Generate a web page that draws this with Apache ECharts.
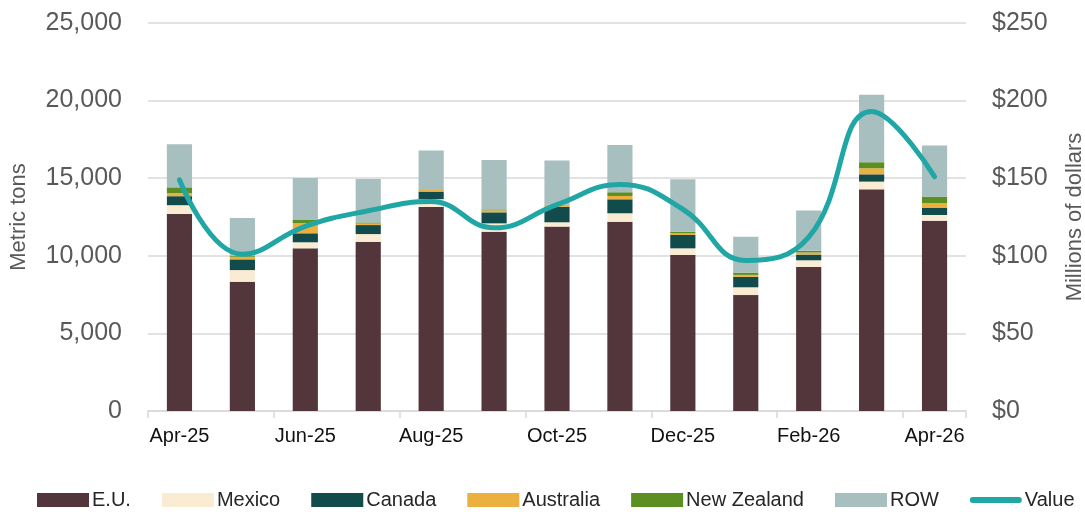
<!DOCTYPE html>
<html>
<head>
<meta charset="utf-8">
<script src="https://cdn.jsdelivr.net/npm/echarts@6/dist/echarts.min.js"></script>
<style>
html,body{margin:0;padding:0;background:#fff;overflow:hidden;width:1085px;height:512px;}
#chart{width:1085px;height:512px;}
</style>
</head>
<body>
<div id="chart"></div>
<script>
var categories = ['Apr-25','May-25','Jun-25','Jul-25','Aug-25','Sep-25','Oct-25','Nov-25','Dec-25','Jan-26','Feb-26','Mar-26','Apr-26'];
var euValues = [12700, 8330, 10480, 10900, 13150, 11550, 11880, 12200, 10050, 7470, 9280, 14280, 12260];
var mexicoValues = [560, 750, 390, 500, 500, 540, 280, 540, 430, 500, 430, 500, 370];
var canadaValues = [580, 690, 580, 580, 490, 710, 990, 900, 860, 670, 370, 470, 450];
var australiaValues = [200, 170, 650, 100, 110, 130, 110, 215, 110, 130, 130, 390, 320];
var newZealandValues = [370, 65, 210, 70, 30, 60, 30, 240, 100, 150, 110, 390, 410];
var rowValues = [2780, 2430, 2700, 2800, 2500, 3180, 2850, 3050, 3380, 2300, 2600, 4340, 3290];
var valueMillions = [149, 101, 119, 129, 135, 118, 133, 146, 130, 97, 112, 193, 151];

var FONT = 'Liberation Sans';
var chart = echarts.init(document.getElementById('chart'), null, {renderer: 'canvas', width: 1085, height: 512});

function bar(name, data, color) {
  return {
    name: name, type: 'bar', stack: 'tons', data: data, barWidth: '40%',
    itemStyle: {color: color}, emphasis: {disabled: true}
  };
}

var option = {
  animation: false,
  textStyle: {fontFamily: FONT},
  grid: {left: 148, right: 119, top: 23, bottom: 101, containLabel: false, outerBoundsMode: 'none'},
  legend: {
    left: 37, top: 490, padding: 0, itemWidth: 52, itemHeight: 14, itemGap: 31,
    textStyle: {fontFamily: FONT, fontSize: 20, color: '#262626', padding: [0, 0, 0, -2]},
    data: [
      {name: 'E.U.', icon: 'rect'},
      {name: 'Mexico', icon: 'rect'},
      {name: 'Canada', icon: 'rect'},
      {name: 'Australia', icon: 'rect'},
      {name: 'New Zealand', icon: 'rect'},
      {name: 'ROW', icon: 'rect'},
      {name: 'Value', icon: 'path://M3,0 L49,0 A3,3 0 0 1 49,6 L3,6 A3,3 0 0 1 3,0 Z'}
    ]
  },
  xAxis: {
    type: 'category', data: categories, boundaryGap: true,
    axisLine: {lineStyle: {color: '#d9d9d9', width: 1.5}},
    axisTick: {show: true, interval: 1, length: 7, lineStyle: {color: '#d9d9d9', width: 1.5}},
    axisLabel: {interval: 1, fontFamily: FONT, fontSize: 20, color: '#111', margin: 15}
  },
  yAxis: [
    {
      type: 'value', min: 0, max: 25000, interval: 5000,
      name: 'Metric tons', nameLocation: 'middle', nameGap: 118, nameRotate: 90,
      nameTextStyle: {fontFamily: FONT, fontSize: 22, color: '#595959'},
      axisLine: {show: false}, axisTick: {show: false},
      splitLine: {lineStyle: {color: '#d9d9d9', width: 1.5}},
      axisLabel: {fontFamily: FONT, fontSize: 25, color: '#595959', margin: 26,
        formatter: function (v) { return v.toLocaleString('en-US'); }}
    },
    {
      type: 'value', min: 0, max: 250, interval: 50, position: 'right',
      name: 'Millions of dollars', nameLocation: 'middle', nameGap: 98, nameRotate: 90,
      nameTextStyle: {fontFamily: FONT, fontSize: 22, color: '#595959'},
      axisLine: {show: false}, axisTick: {show: false}, splitLine: {show: false},
      axisLabel: {fontFamily: FONT, fontSize: 25, color: '#595959', margin: 26,
        formatter: function (v) { return '$' + v; }}
    }
  ],
  series: [
    bar('E.U.', euValues, '#52363B'),
    bar('Mexico', mexicoValues, '#FAEBD3'),
    bar('Canada', canadaValues, '#114B4B'),
    bar('Australia', australiaValues, '#EBB03F'),
    bar('New Zealand', newZealandValues, '#5B8F22'),
    bar('ROW', rowValues, '#A7BFBF'),
    {
      name: 'Value', type: 'line', yAxisIndex: 1, data: valueMillions,
      smooth: 0.45, symbol: 'none', showSymbol: false, z: 10,
      lineStyle: {color: '#20A7A5', width: 5, cap: 'round', join: 'round'},
      itemStyle: {color: '#20A7A5'}, emphasis: {disabled: true}
    }
  ]
};
chart.setOption(option);
</script>
</body>
</html>
